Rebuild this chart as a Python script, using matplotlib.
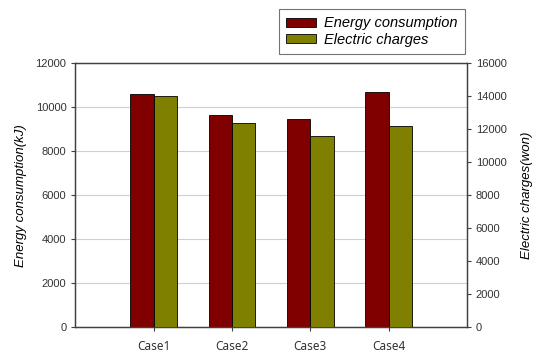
import matplotlib.pyplot as plt
from matplotlib.patches import Patch

cases = ["Case1", "Case2", "Case3", "Case4"]
energy_kj = [10600, 9650, 9450, 10700]
charges_won = [14000, 12400, 11600, 12200]

RED = "#800000"
OLIVE = "#808000"

plt.rcParams["font.family"] = ["Liberation Sans", "DejaVu Sans"]

fig = plt.figure(figsize=(5.39, 3.52), dpi=100)
ax = fig.add_axes([0.140, 0.070, 0.726, 0.750])
ax2 = ax.twinx()

pos = list(range(1, len(cases) + 1))
w = 0.3
ax.bar([p - w / 2 for p in pos], energy_kj, width=w, color=RED,
       edgecolor="black", linewidth=0.6, zorder=3)
ax2.bar([p + w / 2 for p in pos], charges_won, width=w, color=OLIVE,
        edgecolor="black", linewidth=0.6, zorder=3)

ax.set_xlim(0, 5)
ax.set_ylim(0, 12000)
ax2.set_ylim(0, 16000)
ax.set_yticks(range(0, 12001, 2000))
ax2.set_yticks(range(0, 16001, 2000))
ax.set_xticks(pos)
ax.set_xticklabels(cases, fontsize=8.5, fontfamily="Noto Sans", color="#333333")

ax.yaxis.grid(True, color="#d0d0d0", linewidth=0.8, zorder=0)
ax.set_axisbelow(True)

for a in (ax, ax2):
    for s in a.spines.values():
        s.set_color("#404040")
        s.set_linewidth(0.9)
    a.tick_params(axis="y", direction="out", length=3, width=0.8,
                  colors="#404040", labelsize=8, labelcolor="#333333")
ax.tick_params(axis="x", direction="out", length=3, width=0.8, colors="#404040",
               labelcolor="#333333", pad=6)

ax.set_ylabel("Energy consumption(kJ)", fontsize=9.5, style="italic", labelpad=6)
ax2.set_ylabel("Electric charges(won)", fontsize=9.5, style="italic",
               rotation=90, labelpad=10)

handles = [Patch(facecolor=RED, edgecolor="black", linewidth=0.6),
           Patch(facecolor=OLIVE, edgecolor="black", linewidth=0.6)]
leg = fig.legend(handles, ["Energy consumption", "Electric charges"],
                 loc="upper right", bbox_to_anchor=(0.863, 0.974), borderaxespad=0,
                 prop={"style": "italic", "size": 10.5},
                 frameon=True, fancybox=False, handlelength=2.0, handleheight=0.55,
                 handletextpad=0.6, labelspacing=0.15, borderpad=0.5)
leg.get_frame().set_edgecolor("#505050")
leg.get_frame().set_linewidth(0.8)

fig.savefig("out.png", dpi=100)
